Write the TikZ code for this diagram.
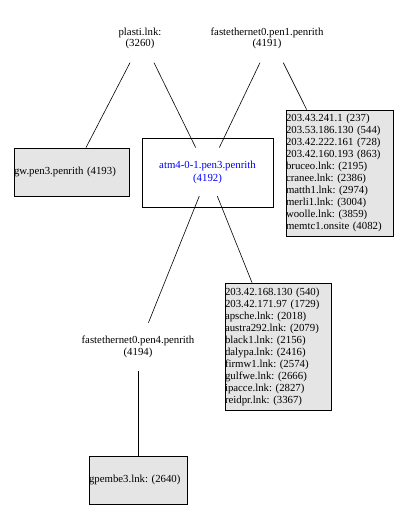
\documentclass[tikz,border=0pt]{standalone}
\usepackage{fontspec}
\setmainfont{Liberation Serif}
\definecolor{boxgray}{RGB}{229,229,229}
\frenchspacing
\begin{document}
\begin{tikzpicture}[x=1pt,y=-1pt,
  every node/.style={font=\fontsize{10.8}{11.5}\selectfont\frenchspacing},
  lbl/.style={inner sep=0pt, align=center, minimum height=48pt, minimum width=120pt},
  gbox/.style={draw, fill=boxgray, line width=0.8pt, inner sep=0pt, align=left},
  listfont/.style={font=\fontsize{10.8}{12}\selectfont\frenchspacing},
  edge/.style={line width=0.6pt}]
\fill[white] (0,0) rectangle (406,518);
\useasboundingbox (0,0) rectangle (406,518);

\node[lbl] (plasti) at (140,38.5) {plasti.lnk:\\(3260)};
\node[lbl] (fe1) at (267,38.5) {fastethernet0.pen1.penrith\\(4191)};
\node[gbox, text width=115pt, minimum height=48pt] (gw) at (71.5,172) {gw.pen3.penrith (4193)};
\node[draw, line width=0.8pt, minimum width=131pt, minimum height=69pt, text=blue, align=center,
      font=\fontsize{10.8}{13}\selectfont] (atm) at (207.5,172.5) {atm4-0-1.pen3.penrith\\(4192)};
\node[gbox, listfont, text width=107pt, minimum height=126pt] (l1) at (339.5,173) {203.43.241.1 (237)\\203.53.186.130 (544)\\203.42.222.161 (728)\\203.42.160.193 (863)\\bruceo.lnk: (2195)\\cranee.lnk: (2386)\\matth1.lnk: (2974)\\merli1.lnk: (3004)\\woolle.lnk: (3859)\\memtc1.onsite (4082)};
\node[gbox, listfont, text width=106pt, minimum height=127pt] (l2) at (278,346.5) {203.42.168.130 (540)\\203.42.171.97 (1729)\\apsche.lnk: (2018)\\austra292.lnk: (2079)\\black1.lnk: (2156)\\dalypa.lnk: (2416)\\firmw1.lnk: (2574)\\gulfwe.lnk: (2666)\\ipacce.lnk: (2827)\\reidpr.lnk: (3367)};
\node[lbl] (fe4) at (138,347) {fastethernet0.pen4.penrith\\(4194)};
\node[gbox, text width=98pt, minimum height=48pt] (gp) at (138,480) {gpembe3.lnk: (2640)};

\draw[edge] ([xshift=-10pt]plasti.south) -- ([xshift=14.5pt]gw.north);
\draw[edge] ([xshift=14pt]plasti.south) -- ([xshift=-11.8pt,yshift=-10pt]atm.north);
\draw[edge] ([xshift=-7pt]fe1.south) -- ([xshift=11.8pt,yshift=-10pt]atm.north);
\draw[edge] ([xshift=16.3pt]fe1.south) -- ([xshift=-32.8pt]l1.north);
\draw[edge] ([xshift=-8.2pt,yshift=11.3pt]atm.south) -- ([xshift=10.4pt]fe4.north);
\draw[edge] ([xshift=9.8pt,yshift=11.3pt]atm.south) -- ([xshift=-26pt]l2.north);
\draw[edge] (fe4.south) -- (gp.north);
\end{tikzpicture}
\end{document}
